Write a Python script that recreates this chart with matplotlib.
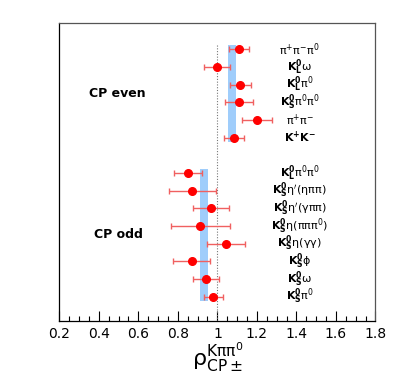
import matplotlib
matplotlib.use("Agg")
import matplotlib.pyplot as plt
from matplotlib.ticker import MultipleLocator, FuncFormatter

# Data
labels_even = [r"$\mathrm{\pi^{+}\pi^{-}\pi^{0}}$", r"$\mathbf{K^{0}_{L}}\mathrm{\omega}$",
               r"$\mathbf{K^{0}_{L}}\mathrm{\pi^{0}}$", r"$\mathbf{K^{0}_{S}}\mathrm{\pi^{0}\pi^{0}}$",
               r"$\mathrm{\pi^{+}\pi^{-}}$", r"$\mathbf{K^{+}K^{-}}$"]
vals_even = [1.108, 1.00, 1.116, 1.111, 1.200, 1.084]
errs_even = [0.050, 0.066, 0.052, 0.070, 0.076, 0.053]

labels_odd = [r"$\mathbf{K^{0}_{L}}\mathrm{\pi^{0}\pi^{0}}$", r"$\mathbf{K^{0}_{S}}\mathrm{\eta'(\eta\pi\pi)}$",
              r"$\mathbf{K^{0}_{S}}\mathrm{\eta'(\gamma\pi\pi)}$", r"$\mathbf{K^{0}_{S}}\mathrm{\eta(\pi\pi\pi^{0})}$",
              r"$\mathbf{K^{0}_{S}}\mathrm{\eta(\gamma\gamma)}$", r"$\mathbf{K^{0}_{S}}\mathrm{\phi}$",
              r"$\mathbf{K^{0}_{S}}\mathrm{\omega}$", r"$\mathbf{K^{0}_{S}}\mathrm{\pi^{0}}$"]
vals_odd = [0.853, 0.874, 0.968, 0.914, 1.044, 0.870, 0.943, 0.980]
errs_odd = [0.070, 0.120, 0.092, 0.150, 0.097, 0.093, 0.064, 0.048]

band_even = (1.075, 0.021)
band_odd = (0.932, 0.021)

fig = plt.figure(figsize=(3.99, 3.80), dpi=100)
ax = fig.add_axes([0.1486, 0.1553, 0.941 - 0.1486, 0.940 - 0.1553])

rows_even = list(range(len(vals_even)))
rows_odd = [r + len(vals_even) + 1 for r in range(len(vals_odd))]

band_color = "#9fcdfb"
ax.fill_betweenx([rows_even[0] - 0.25, rows_even[-1] + 0.25],
                 band_even[0] - band_even[1], band_even[0] + band_even[1],
                 color=band_color, lw=0, zorder=1)
ax.fill_betweenx([rows_odd[0] - 0.25, rows_odd[-1] + 0.25],
                 band_odd[0] - band_odd[1], band_odd[0] + band_odd[1],
                 color=band_color, lw=0, zorder=1)

ax.plot([1.0, 1.0], [rows_even[0] - 0.25, 15.5], ls=(0, (1, 1.5)), color="#777777", lw=0.8, zorder=2)

for rows, vals, errs in [(rows_even, vals_even, errs_even), (rows_odd, vals_odd, errs_odd)]:
    ax.errorbar(vals, rows, xerr=errs, fmt="o", color="red", ecolor="#f06060",
                markersize=5.5, elinewidth=1.0, capsize=2.5, capthick=1.0, zorder=3)

lab_x = 1.416
for rows, labs in [(rows_even, labels_even), (rows_odd, labels_odd)]:
    for r, l in zip(rows, labs):
        ax.text(lab_x, r, l, ha="center", va="center", fontsize=8)

ax.text(0.496, (rows_even[2] + rows_even[3]) / 2, "CP even", ha="center", va="center",
        fontsize=9, fontweight="bold")
ax.text(0.500, (rows_odd[3] + rows_odd[4]) / 2, "CP odd", ha="center", va="center",
        fontsize=9, fontweight="bold")

ax.set_xlim(0.2, 1.8)
ax.set_ylim(15.38, -1.505)
ax.set_yticks([])
ax.xaxis.set_major_locator(MultipleLocator(0.2))
ax.xaxis.set_minor_locator(MultipleLocator(0.05))
ax.xaxis.set_major_formatter(FuncFormatter(lambda v, p: f"{v:.1f}" if abs(v - round(v)) > 1e-6 else f"{int(round(v))}"))
ax.tick_params(axis="x", which="major", direction="in", length=7, width=0.8, labelsize=10, pad=4)
ax.tick_params(axis="x", which="minor", direction="in", length=3.5, width=0.8)
for s in ax.spines.values():
    s.set_color("#555555")
    s.set_linewidth(0.9)
ax.spines["bottom"].set_color("black")
ax.spines["left"].set_color("black")

ax.set_xlabel(r"$\mathrm{\rho^{K\pi\pi^{0}}_{CP\pm}}$", fontsize=16, labelpad=1)

fig.savefig("out.png", dpi=100)
